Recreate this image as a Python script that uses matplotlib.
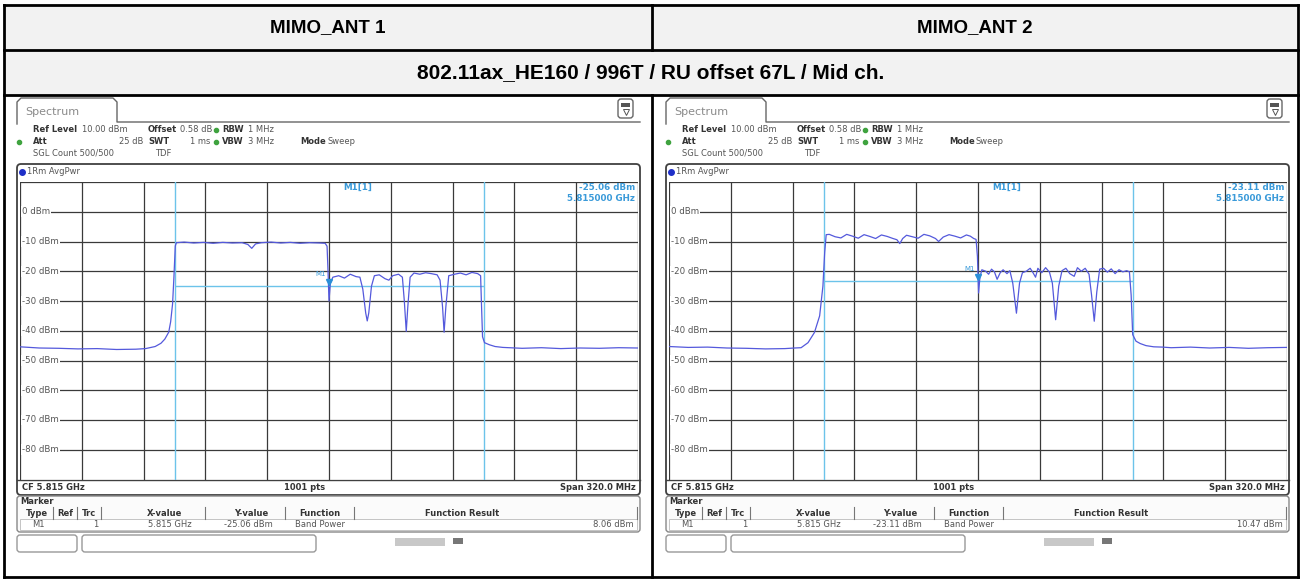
import numpy as np
import matplotlib.pyplot as plt
from matplotlib.patches import FancyBboxPatch, Rectangle

W, H = 1301, 579

col_titles = ['MIMO_ANT 1', 'MIMO_ANT 2']
row_title = '802.11ax_HE160 / 996T / RU offset 67L / Mid ch.'

level_ticks = [0, -10, -20, -30, -40, -50, -60, -70, -80]

# trace, offset from CF 5.815 GHz in MHz / level in dBm
ant1_freq = [-160, -150, -140, -130, -120, -110, -100, -95, -90, -87, -85, -83, -82, -81, -80.3,
             -79.6, -79, -75, -70, -65, -60, -55, -50, -45, -42, -40, -38, -35, -30, -25, -20,
             -15, -10, -5, -2, -1, -0.5, 0, 0.7, 2, 5, 8, 11, 14, 16, 17.5, 19, 19.8, 20.6,
             22, 23.5, 26, 29, 31, 33, 36, 38, 39, 40, 40.8, 42, 44, 47, 50, 53, 56, 57.5,
             58.8, 59.6, 60.5, 62, 65, 68, 71, 74, 77, 78.5, 79, 79.5, 80.5, 83, 86, 90, 100,
             110, 120, 130, 140, 150, 160]
ant1_level = [-45.4, -45.8, -45.9, -46.1, -46.0, -46.3, -46.2, -46.0, -45.3, -44.2, -42.8, -40.5,
              -37.0, -31.0, -22.0, -11.5, -10.4, -10.2, -10.5, -10.3, -10.6, -10.3, -10.5, -10.4,
              -11.0, -12.3, -10.8, -10.4, -10.2, -10.5, -10.3, -10.6, -10.4, -10.5, -10.6, -11.6,
              -20.0, -30.0, -24.0, -22.0, -21.5, -22.3, -21.0, -21.8, -22.0, -26.0, -34.0, -36.7,
              -34.0, -25.0, -21.5, -21.2, -22.5, -23.0, -21.5, -21.0, -22.0, -30.0, -40.2, -32.0,
              -22.0, -20.6, -21.0, -20.5, -20.8, -21.2, -23.0, -32.0, -40.5, -32.0, -21.5, -21.0,
              -20.6, -21.2, -20.4, -20.8, -21.5, -32.0, -42.0, -44.0, -44.7, -45.3, -45.6, -45.9,
              -45.7, -46.0, -45.8, -45.9, -45.7, -45.8]

ant2_freq = [-160, -150, -140, -130, -120, -110, -100, -95, -91.6, -88, -84.7, -82, -80.3, -79.4,
             -78.6, -77, -74, -71, -68, -65, -62, -59, -56, -53, -50, -47, -44, -42, -40.5, -39,
             -37, -34, -31, -28, -25, -22, -20.4, -18, -15, -12, -9, -6, -4, -2.2, -1, -0.3, 0.3,
             1, 2, 4, 5.5, 7, 8.5, 9.9, 11.5, 13, 15, 16.5, 18, 19.9, 21.5, 23, 25, 27, 28.5,
             29.8, 31, 33, 35, 37, 38.5, 40.2, 41.8, 43.5, 45.5, 47.5, 49.8, 51.5, 53.5, 55.5,
             57.5, 58.8, 60.2, 61.5, 63, 65, 67, 69, 71, 73, 75, 77, 78.4, 79.3, 80.1, 81.8, 84,
             87, 91, 95.7, 100, 110, 120, 130, 140, 150, 160]
ant2_level = [-45.3, -45.6, -45.5, -45.8, -45.9, -46.1, -46.0, -45.8, -45.7, -44.0, -40.6, -35.0,
              -25.0, -13.8, -7.7, -7.6, -8.4, -8.8, -7.6, -8.2, -8.9, -7.7, -8.3, -9.0, -7.8, -8.3,
              -9.0, -9.4, -10.7, -9.0, -7.9, -8.4, -8.9, -7.6, -8.1, -9.0, -10.0, -8.5, -7.7, -8.2,
              -8.8, -7.8, -8.2, -9.0, -9.3, -15.0, -27.3, -22.0, -19.5, -20.0, -21.0, -19.3, -20.2,
              -22.7, -20.5, -19.5, -20.8, -19.8, -24.0, -34.1, -24.0, -20.5, -20.0, -19.0, -20.5,
              -22.0, -19.0, -20.5, -18.8, -20.3, -24.0, -36.3, -25.0, -19.8, -19.0, -20.8, -21.7,
              -18.8, -20.0, -19.0, -21.0, -28.0, -36.8, -27.0, -19.3, -19.0, -20.3, -19.2, -20.8,
              -19.5, -20.2, -19.8, -20.2, -28.0, -41.3, -43.5, -44.3, -45.0, -45.4, -45.5, -45.7,
              -45.5, -45.8, -45.6, -45.9, -45.7, -45.6]

band_edges = [-80, 80]
marker_freq = 0
marker_levels = [-25.06, -23.11]
band_powers = ['8.06 dBm', '10.47 dBm']

TRACE = '#5459dc'
CYAN = '#6cc3ea'
READ = '#3a9ad9'
GREY = '#555555'
DARK = '#333333'
FONT = 'DejaVu Sans'

fig = plt.figure(figsize=(W / 100, H / 100), dpi=100)
bg = fig.add_axes([0, 0, 1, 1])
bg.set_xlim(0, W)
bg.set_ylim(H, 0)
bg.axis('off')


def txt(x, y, s, size=6, color=GREY, weight='normal', ha='left', **kw):
    bg.text(x, y, s, size=size, color=color, weight=weight, ha=ha, va='center',
            family=FONT, **kw)


def rbox(x, y, w, h, r=4, ec='#444444', fc='white', lw=1.0):
    bg.add_patch(FancyBboxPatch((x, y), w, h, boxstyle=f'round,pad=0,rounding_size={r}',
                                ec=ec, fc=fc, lw=lw))


# table
bg.add_patch(Rectangle((4, 5), 1294, 90, fc='#f2f2f2', ec='none'))
for yy in (5, 50, 95, 577):
    bg.plot([4, 1298], [yy, yy], color='black', lw=2, solid_capstyle='projecting')
for xx in (4, 1298):
    bg.plot([xx, xx], [5, 577], color='black', lw=2)
bg.plot([652, 652], [5, 50], color='black', lw=2)
bg.plot([652, 652], [95, 577], color='black', lw=2)
bg.text(328, 28, col_titles[0], ha='center', va='center', size=13.5, weight='bold',
        family='Liberation Sans')
bg.text(975, 28, col_titles[1], ha='center', va='center', size=13.5, weight='bold',
        family='Liberation Sans')
bg.text(651, 73, row_title, ha='center', va='center', size=15, weight='bold',
        family='Liberation Sans')


def draw_panel(ox, freq, level, mk_level, bp):
    # tab + icon
    bg.plot([ox + 17, ox + 17, ox + 21, ox + 113, ox + 117, ox + 117, ox + 640],
            [124, 102, 98, 98, 102, 122, 122], color='#666666', lw=1)
    txt(ox + 25, 112, 'Spectrum', size=8, color='#8a8a8a')
    rbox(ox + 618, 99, 15, 19, r=3, ec='#666666')
    bg.add_patch(Rectangle((ox + 621, 103), 9, 4, fc='#555555', ec='none'))
    bg.plot([ox + 625.5], [112], marker='v', ms=4, mfc='white', mec='#555555', mew=0.7)

    # settings
    txt(ox + 33, 130, 'Ref Level', weight='bold', color=DARK)
    txt(ox + 82, 130, '10.00 dBm')
    txt(ox + 148, 130, 'Offset', weight='bold', color=DARK)
    txt(ox + 180, 130, '0.58 dB')
    txt(ox + 222, 130, 'RBW', weight='bold', color=DARK)
    txt(ox + 248, 130, '1 MHz')
    txt(ox + 33, 142, 'Att', weight='bold', color=DARK)
    txt(ox + 143, 142, '25 dB', ha='right')
    txt(ox + 148, 142, 'SWT', weight='bold', color=DARK)
    txt(ox + 210, 142, '1 ms', ha='right')
    txt(ox + 222, 142, 'VBW', weight='bold', color=DARK)
    txt(ox + 248, 142, '3 MHz')
    txt(ox + 300, 142, 'Mode', weight='bold', color=DARK)
    txt(ox + 327, 142, 'Sweep')
    txt(ox + 33, 153, 'SGL Count 500/500')
    txt(ox + 155, 153, 'TDF')
    for gx, gy in ((ox + 216, 130), (ox + 19, 142), (ox + 216, 142)):
        bg.plot([gx], [gy], marker='o', ms=3, color='#3fa33f')

    # trace window
    rbox(ox + 17, 164, 623, 331, r=4, ec='#404040', lw=1.3)
    bg.plot([ox + 22], [172], marker='o', ms=4, color='#1f2fc8')
    txt(ox + 27, 172, '1Rm AvgPwr')
    bg.plot([ox + 17, ox + 640], [480, 480], color='#404040', lw=1)
    txt(ox + 22, 487, 'CF 5.815 GHz', weight='bold', color=DARK)
    txt(ox + 305, 487, '1001 pts', weight='bold', color=DARK, ha='center')
    txt(ox + 636, 487, 'Span 320.0 MHz', weight='bold', color=DARK, ha='right')

    # marker table
    rbox(ox + 17, 496, 623, 36, r=3, ec='#888888', fc='#fbfbfb')
    txt(ox + 20, 502, 'Marker', weight='bold', color=DARK)
    heads = [('Type', 37), ('Ref', 65), ('Trc', 89), ('X-value', 165), ('Y-value', 251),
             ('Function', 320), ('Function Result', 462)]
    for h_, hx in heads:
        txt(ox + hx, 513, h_, weight='bold', color=DARK, ha='center')
    for sx in (53, 77, 101, 205, 285, 354, 637):
        bg.plot([ox + sx, ox + sx], [507, 519], color='#777777', lw=0.8)
    bg.add_patch(Rectangle((ox + 20, 519), 617, 11, fc='white', ec='#bbbbbb', lw=0.6))
    txt(ox + 38, 524.5, 'M1', ha='center')
    txt(ox + 98, 524.5, '1', ha='right')
    txt(ox + 192, 524.5, '5.815 GHz', ha='right')
    txt(ox + 273, 524.5, f'{mk_level:.2f} dBm', ha='right')
    txt(ox + 320, 524.5, 'Band Power', ha='center')
    txt(ox + 634, 524.5, bp, ha='right')

    # status row
    rbox(ox + 17, 535, 60, 17, r=3, ec='#999999')
    rbox(ox + 82, 535, 234, 17, r=3, ec='#999999')
    bg.add_patch(Rectangle((ox + 395, 538), 50, 8, fc='#c8c8c8', ec='none'))
    bg.add_patch(Rectangle((ox + 453, 538), 10, 6, fc='#777777', ec='none'))

    # graticule
    gx0, gx1, gy0, gy1 = ox + 20, ox + 638, 182, 479.5
    ax = fig.add_axes([gx0 / W, 1 - gy1 / H, (gx1 - gx0) / W, (gy1 - gy0) / H])
    ax.set_xlim(-160, 160)
    ax.set_ylim(-90, 10)
    ax.set_xticks(np.linspace(-160, 160, 11))
    ax.set_yticks(np.arange(-90, 11, 10))
    ax.grid(True, color='#3a3a3a', lw=0.9)
    ax.tick_params(length=0, labelbottom=False, labelleft=False)
    for s in ax.spines.values():
        s.set_visible(False)

    for lv in level_ticks:
        ax.text(-159, lv, f'{lv} dBm', ha='left', va='center', size=6.2, color=GREY,
                family=FONT, bbox=dict(fc='white', ec='none', pad=0.6))
    for be in band_edges:
        ax.axvline(be, color=CYAN, lw=1)
    ax.hlines(mk_level, band_edges[0], band_edges[1], color=CYAN, lw=1)
    ax.plot(freq, level, color=TRACE, lw=0.9)
    ax.plot([marker_freq], [mk_level + 1.3], marker='v', ms=5, color='#2a8fd8')
    ax.text(marker_freq - 1.5, mk_level + 4, 'M1', ha='right', va='center', size=5,
            color=READ, family=FONT)
    ax.text(15, 8.3, 'M1[1]', ha='center', va='center', size=6.3, color=READ,
            weight='bold', family=FONT)
    ax.text(158.5, 8.3, f'{mk_level:.2f} dBm', ha='right', va='center', size=6.3,
            color=READ, weight='bold', family=FONT)
    ax.text(158.5, 4.6, '5.815000 GHz', ha='right', va='center', size=6.3, color=READ,
            weight='bold', family=FONT)


draw_panel(0, ant1_freq, ant1_level, marker_levels[0], band_powers[0])
draw_panel(649, ant2_freq, ant2_level, marker_levels[1], band_powers[1])

fig.savefig('out.png', dpi=100)
